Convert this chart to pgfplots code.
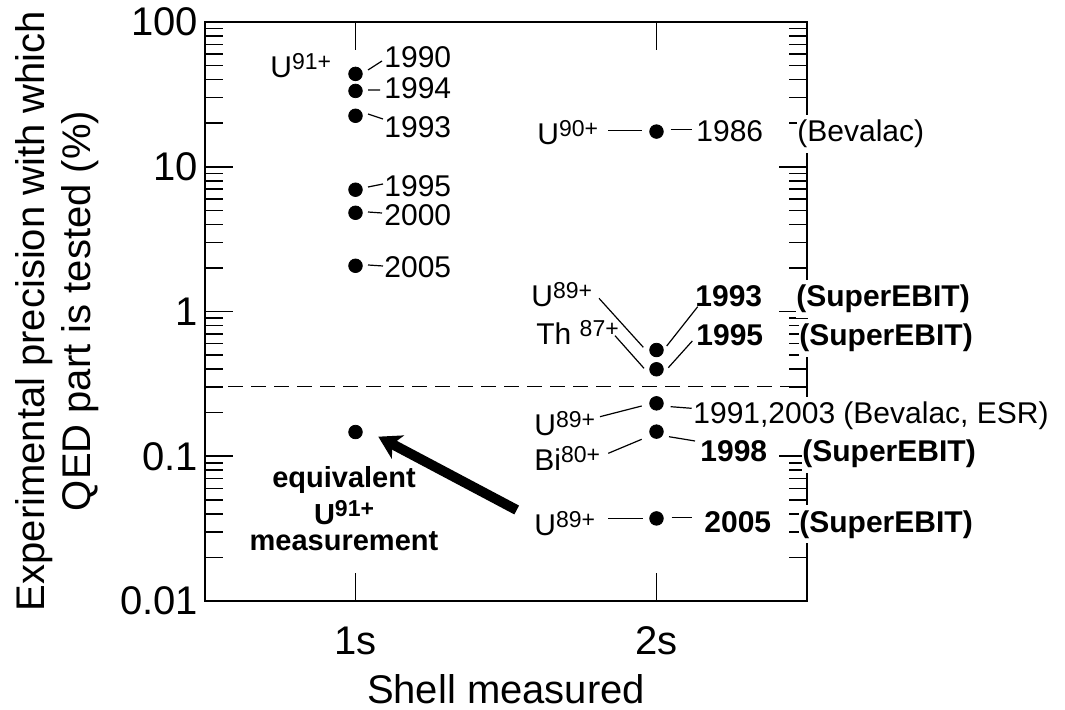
\documentclass[border=0pt]{standalone}
\usepackage{fontspec}
\setmainfont{Liberation Sans}
\usepackage{pgfplots}
\pgfplotsset{compat=1.18}
\usetikzlibrary{arrows.meta}

\newcommand\lab{\fontsize{15}{18}\selectfont}
\newcommand\bigf{\fontsize{20}{24}\selectfont}
% superscript charge, a bit larger than \textsuperscript
\newcommand\chg[1]{\raisebox{4.2pt}{\fontsize{11.5}{13}\selectfont #1}}

\begin{document}
\begin{tikzpicture}
\begin{axis}[
  anchor=north west, at={(0,0)},
  width=301pt, height=289.5pt, scale only axis,
  xmin=0.5, xmax=2.5, ymin=0.01, ymax=100, ymode=log,
  xtick={1,2}, xticklabels={1s,2s},
  ytick={0.01,0.1,1,10,100}, yticklabels={0.01,0.1,1,10,100},
  minor ytick={0.02,0.03,0.04,0.05,0.06,0.07,0.08,0.09,
               0.2,0.3,0.4,0.5,0.6,0.7,0.8,0.9,
               2,3,4,5,6,7,8,9,20,30,40,50,60,70,80,90},
  tick align=inside,
  major tick length=14pt, minor tick length=9pt,
  axis line style={line width=0.9pt},
  tick style={black, line width=0.8pt},
  tick label style={font=\bigf},
  xticklabel style={yshift=-9.5pt},
  clip=false,
]
  % 1s measurements (U91+) and the equivalent point
  \addplot[only marks, mark=*, mark size=3.4pt, mark options={fill=black, draw=black}]
    coordinates {(1,43.8) (1,33.4) (1,22.5) (1,6.94) (1,4.81) (1,2.07) (1,0.147)};
  % 2s measurements
  \addplot[only marks, mark=*, mark size=3.4pt, mark options={fill=black, draw=black}]
    coordinates {(2,17.5) (2,0.542) (2,0.399) (2,0.232) (2,0.148) (2,0.0372)};
  % divider
  \addplot[black, line width=0.6pt, dash pattern=on 7.5pt off 4pt]
    coordinates {(0.5,0.303) (2.5,0.303)};
\end{axis}

% annotations, in pixel units of the reference
\begin{scope}[shift={(-102.5pt,11pt)}, x=0.5pt, y=-0.5pt,
  lbl/.style={anchor=base west, inner sep=0pt, font=\lab},
  bl/.style={lbl, font=\lab\bfseries},
  wl/.style={lbl, fill=white, inner ysep=2.5pt},
  wb/.style={bl, fill=white, inner ysep=2.5pt}]
  \node[rotate=90, align=center, font=\fontsize{20}{23}\selectfont] at (57,311)
    {Experimental precision with which\\QED part is tested (\%)};
  \node[anchor=base, inner sep=0pt, font=\bigf] at (506,703) {Shell measured};

  % 1s
  \node[lbl] at (270,78) {U\chg{91+}};
  \draw[line width=0.6pt] (368,70)--(382,61) (368,90)--(380,90) (368,114)--(383,119)
    (368,187)--(383,184) (368,212)--(382,213) (368,265)--(383,266);
  \node[lbl] at (384,68) {1990};
  \node[lbl] at (384,99) {1994};
  \node[lbl] at (384,138) {1993};
  \node[lbl] at (384,197) {1995};
  \node[lbl] at (384,226) {2000};
  \node[lbl] at (384,278) {2005};

  % equivalent
  \node[anchor=base, inner sep=0pt, font=\fontsize{14.5}{17}\selectfont\bfseries] at (344,488) {equivalent};
  \node[anchor=base, inner sep=0pt, font=\fontsize{14.5}{17}\selectfont\bfseries] at (344,525) {U\chg{\bfseries 91+}};
  \node[anchor=base, inner sep=0pt, font=\fontsize{14.5}{17}\selectfont\bfseries] at (344,551) {measurement};
  \draw[line width=5pt, -{Stealth[length=11pt, width=13pt, inset=3pt]}] (516.7,510) -- (378.3,436.7);

  % 2s
  \node[lbl] at (537,145) {U\chg{90+}};
  \draw[line width=0.6pt] (608,130.7)--(642,130.7) (670.7,129.5)--(691.7,129.5);
  \node[lbl] at (696,142) {1986};
  \node[wl] at (797,142) {(Bevalac)};

  \node[lbl] at (531,307) {U\chg{89+}};
  \node[lbl] at (536,345) {Th \chg{87+}};
  \draw[line width=0.6pt] (599,298.3)--(643.3,347.3) (615,335.7)--(644,368.3)
    (666.7,346)--(697.7,306.7) (668.3,367.7)--(692.3,341);
  \node[bl] at (695,307) {1993};
  \node[bl] at (696,346) {1995};
  \node[wb] at (796,307) {(SuperEBIT)};
  \node[wb] at (799,346) {(SuperEBIT)};

  \node[lbl] at (534,436) {U\chg{89+}};
  \node[lbl] at (534,471) {Bi\chg{80+}};
  \draw[line width=0.6pt] (600,416.7)--(641.7,406) (608.3,453.3)--(641.7,439.3)
    (670.7,406.7)--(691.7,408.3) (669,436.7)--(695,441);
  \node[wl] at (693,424) {1991,2003 (Bevalac, ESR)};
  \node[bl] at (700,462) {1998};
  \node[wb] at (802,462) {(SuperEBIT)};

  \node[lbl] at (534,536) {U\chg{89+}};
  \draw[line width=0.6pt] (608.3,518.3)--(643.3,518.3) (671.7,517.3)--(691.7,517.3);
  \node[bl] at (704,532) {2005};
  \node[wb] at (799,532) {(SuperEBIT)};
\end{scope}

\pgfresetboundingbox
\path (-102.5pt,11pt) rectangle (430pt,-344pt);
\end{tikzpicture}
\end{document}
